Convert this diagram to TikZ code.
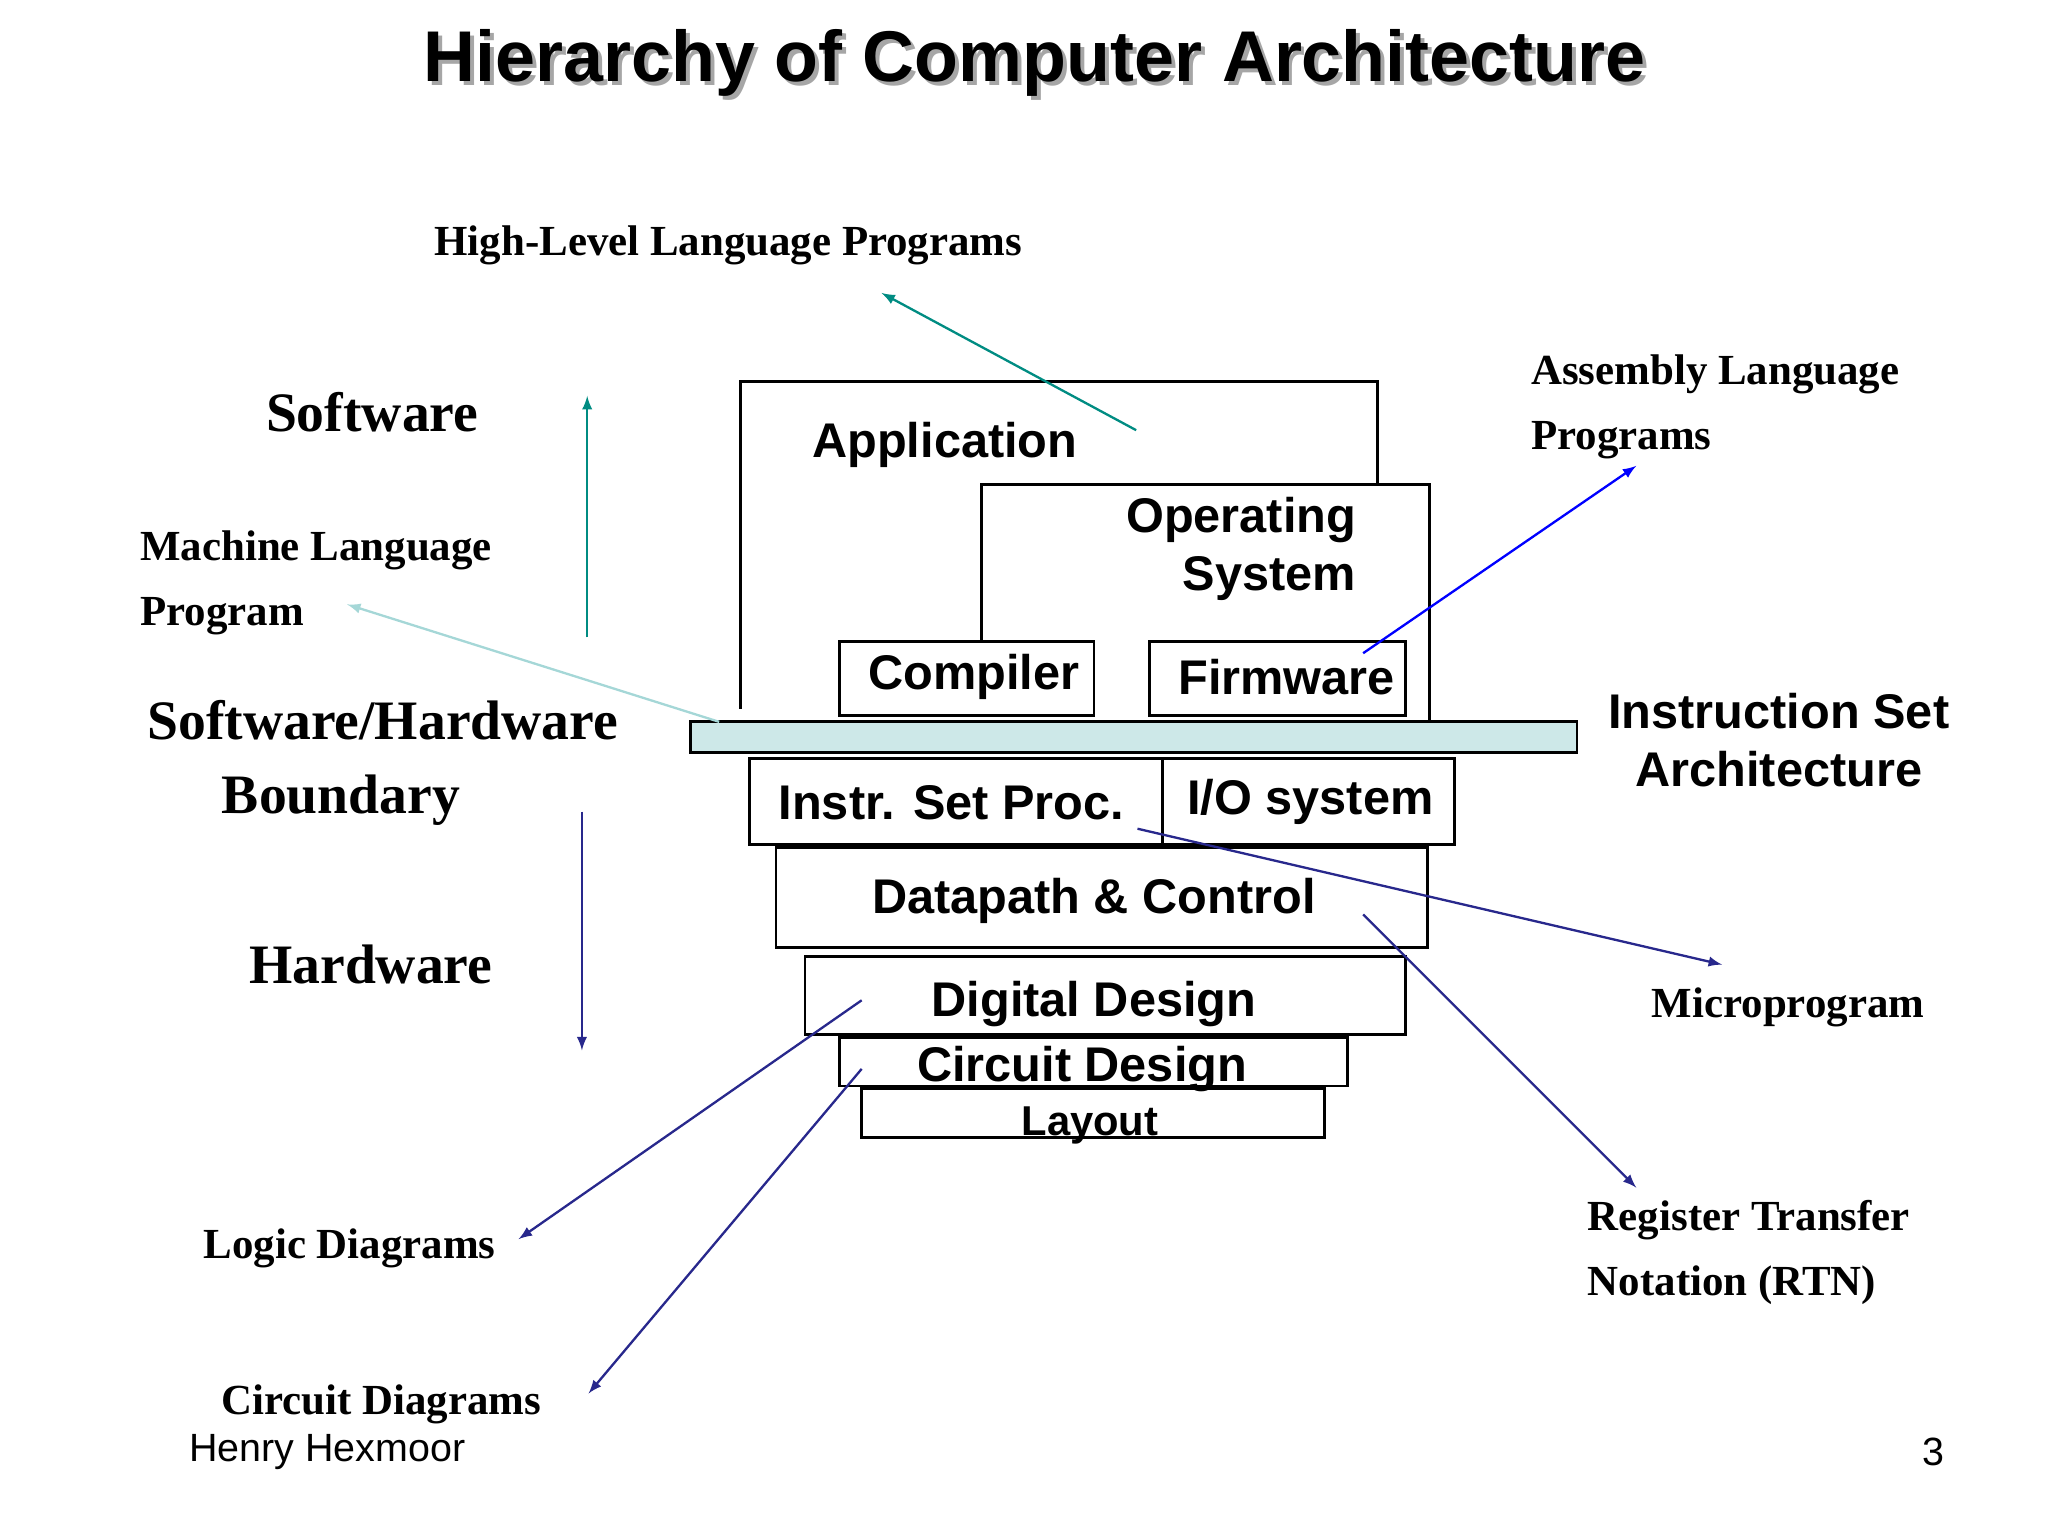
\documentclass[tikz,border=0pt]{standalone}
\usepackage{fontspec}
\setmainfont{Liberation Serif}
\newfontfamily\arial{Liberation Sans}
\definecolor{navyc}{RGB}{40,40,140}
\definecolor{tealc}{RGB}{0,140,130}
\definecolor{isafill}{RGB}{205,232,232}
\definecolor{lightc}{RGB}{165,215,215}
\begin{document}
\begin{tikzpicture}[x=0.02cm,y=-0.02cm,
  lab/.style={font=\bfseries\fontsize{18.5}{22}\selectfont,inner sep=0},
  big/.style={font=\bfseries\fontsize{24}{28}\selectfont,inner sep=0},
  box/.style={font=\arial\bfseries\fontsize{21}{25}\selectfont,inner sep=0},
  bx/.style={draw,line width=1.2pt},
  arr/.style={-latex,line width=1pt},
  navy/.style={color=navyc},
  teal/.style={color=tealc}]
\useasboundingbox (0,0) rectangle (1552,1164);
\node[font=\arial\bfseries\fontsize{31}{36}\selectfont,text=gray!70] at (787,51) {Hierarchy of Computer Architecture};
\node (title) [font=\arial\bfseries\fontsize{31}{36}\selectfont] at (784,48) {Hierarchy of Computer Architecture};
% boxes
\draw[line width=1.2pt] (561,537) -- (561,289) -- (1044,289) -- (1044,367);
\draw[line width=1.2pt] (744,485) -- (744,367) -- (1083,367) -- (1083,547);
\node (app) [box] at (716,337) {Application};
\node (os) [box,align=right,anchor=east] at (1028,416) {Operating\\System};
\draw[bx] (636,486) rectangle (829,542); \node (comp)[box] at (738,513) {Compiler};
\draw[bx] (871,486) rectangle (1065,542); \node (firm)[box] at (975,513) {Firmware};
\draw[line width=1.2pt,fill=isafill] (523,547) rectangle (1195,570);
\coordinate (isaL) at (545,547);
\node (isa)[box,align=center] at (1348,561) {Instruction Set\\Architecture};
\draw[bx] (568,575) rectangle (1102,640); \draw[line width=1.2pt] (881,575)--(881,640);
\node (isp)[box] at (721,608) {Instr. Set Proc.};
\node (io)[box] at (993,608) {I/O system};
\draw[bx] (588,642) rectangle (1082,718); \node (dp)[box] at (829,683) {Datapath \& Control};
\draw[bx] (610,725) rectangle (1065,784); \node (dd)[box] at (829,761) {Digital Design};
\draw[bx] (636,786) rectangle (1021,823); \node (cd)[box] at (820,810) {Circuit Design};
\draw[bx] (653,825) rectangle (1004,862); \node (lay)[box,font=\arial\bfseries\fontsize{18}{20}\selectfont] at (826,853) {Layout};
% left labels
\node (sw)[big] at (282,312) {Software};
\node (swhw)[big,align=center] at (290,578) {Software/Hardware\\[4pt]\hspace*{-1.5em}Boundary};
\node (hw)[big] at (281,731) {Hardware};
\coordinate (su1) at (445,483); \coordinate (su2) at (445,300);
\coordinate (hd1) at (441,615); \coordinate (hd2) at (441,796);
\draw[arr,teal] (su1) -- (su2);
\draw[arr,navy] (hd1) -- (hd2);
% labels
\node (hll)[lab] at (552,186) {High-Level Language Programs};
\node (ml)[lab,align=left,anchor=west] at (106,442) {Machine Language\\[6pt]Program};
\node (al)[lab,align=left,anchor=west] at (1160,308) {Assembly Language\\[6pt]Programs};
\node (mp)[lab] at (1355,763) {Microprogram};
\node (rtn)[lab,align=left,anchor=west] at (1203,949) {Register Transfer\\[6pt]Notation (RTN)};
\node (ld)[lab] at (265,946) {Logic Diagrams};
\node (cdg)[lab] at (289,1064) {Circuit Diagrams};
\node (auth)[font=\arial\fontsize{17}{20}\selectfont] at (248,1100) {Henry Hexmoor};
\node (pg)[font=\arial\fontsize{17}{20}\selectfont] at (1465,1100) {3};
% arrows
\coordinate (a1) at (861,326); \coordinate (a1e) at (668,222);
\draw[arr,teal] (a1) -- (a1e);
\coordinate (a2e) at (263,458);
\draw[arr,lightc] (isaL) -- (a2e);
\coordinate (a3) at (1033,495); \coordinate (a3e) at (1240,353);
\draw[arr,blue] (a3) -- (a3e);
\coordinate (a4) at (862,628); \coordinate (a4e) at (1305,731);
\draw[arr,navy] (a4) -- (a4e);
\coordinate (a5) at (1033,693); \coordinate (a5e) at (1240,900);
\draw[arr,navy] (a5) -- (a5e);
\coordinate (a6) at (653,758); \coordinate (a6e) at (393,939);
\draw[arr,navy] (a6) -- (a6e);
\coordinate (a7) at (653,810); \coordinate (a7e) at (446,1056);
\draw[arr,navy] (a7) -- (a7e);
\end{tikzpicture}
\end{document}
